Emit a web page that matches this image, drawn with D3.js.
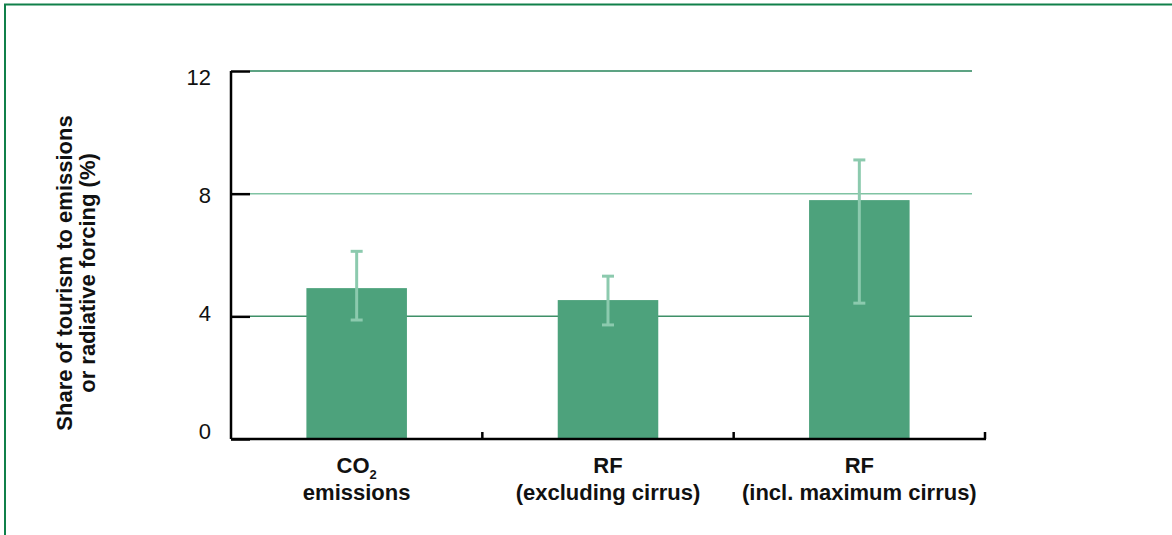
<!DOCTYPE html>
<html><head><meta charset="utf-8">
<script src="https://cdn.jsdelivr.net/npm/d3@7/dist/d3.min.js"></script>
<style>body{margin:0;background:#fff}svg{display:block}text{font-family:"Liberation Sans",Arial,sans-serif}</style>
</head><body>
<svg id="c" width="1172" height="535"></svg>
<script>
const categories = ["CO2 emissions", "RF (excluding cirrus)", "RF (incl. maximum cirrus)"];
const labelLine1 = ["CO", "RF", "RF"];
const labelLine2 = ["emissions", "(excluding cirrus)", "(incl. maximum cirrus)"];
const values = [4.92, 4.53, 7.79];
const errLow = [3.88, 3.72, 4.43];
const errHigh = [6.12, 5.31, 9.10];
const yTicks = [0, 4, 8, 12];
const gridColors = {4: "#3f9068", 8: "#80c3a3", 12: "#27845a"};

const svg = d3.select("#c");
// frame
svg.append("path").attr("d", "M5,535 L5,4.5 L1172,4.5").attr("fill", "none")
  .attr("stroke", "#10804a").attr("stroke-width", 2);

const x0 = 231, x1 = 985, yTop = 71, yBot = 439;
const x = d3.scaleBand().domain(categories).range([x0, x1]).paddingInner(0.6).paddingOuter(0.3);
const xb = d3.scaleBand().domain(categories).range([x0, x1]);
const y = d3.scaleLinear().domain([0, 12]).range([yBot, yTop]);
const yLab = d3.scaleLinear().domain([0, 12]).range([439, 85]);

// gridlines
svg.append("g").selectAll("line").data(yTicks.filter(d => d > 0)).join("line")
  .attr("x1", d => d === 8 ? 237 : 250).attr("x2", 972)
  .attr("y1", d => y(d)).attr("y2", d => y(d))
  .attr("stroke", d => gridColors[d]).attr("stroke-width", 1.5);

// bars
svg.append("g").selectAll("rect").data(categories).join("rect")
  .attr("x", d => x(d)).attr("width", x.bandwidth())
  .attr("y", (d, i) => y(values[i])).attr("height", (d, i) => yBot - y(values[i]))
  .attr("fill", "#4da27c");

// error bars
const eg = svg.append("g").attr("stroke", "#8ccaae").attr("stroke-width", 3).attr("fill", "none");
categories.forEach((c, i) => {
  const cx = x(c) + x.bandwidth() / 2;
  eg.append("line").attr("x1", cx).attr("x2", cx).attr("y1", y(errHigh[i])).attr("y2", y(errLow[i]));
  eg.append("line").attr("x1", cx - 6).attr("x2", cx + 6).attr("y1", y(errHigh[i])).attr("y2", y(errHigh[i]));
  eg.append("line").attr("x1", cx - 6).attr("x2", cx + 6).attr("y1", y(errLow[i])).attr("y2", y(errLow[i]));
});

// y axis
const yAxis = d3.axisRight(y).tickValues(yTicks).tickSize(19).tickFormat("");
const ya = svg.append("g").attr("transform", `translate(${x0},0)`).call(yAxis);
ya.select(".domain").attr("d", `M0,${yTop}V${yBot}`).attr("stroke", "#000").attr("stroke-width", 2.5);
ya.selectAll(".tick line").attr("stroke", "#000").attr("stroke-width", 2.5);
svg.append("g").selectAll("text").data(yTicks).join("text")
  .attr("x", 211).attr("y", d => yLab(d)).attr("text-anchor", "end")
  .attr("font-size", 22).attr("fill", "#111").text(d => d);

// x axis
const xAxis = d3.axisTop(xb).tickSize(0).tickFormat("");
const xa = svg.append("g").attr("transform", `translate(0,${yBot})`).call(xAxis);
xa.select(".domain").attr("d", `M${x0},0H${x1 + 1}`).attr("stroke", "#000").attr("stroke-width", 2.5);
xa.selectAll(".tick").remove();
xa.selectAll(".sep").data(categories).join("line").attr("class", "sep")
  .attr("x1", d => xb(d) + xb.bandwidth()).attr("x2", d => xb(d) + xb.bandwidth())
  .attr("y1", 0).attr("y2", -7).attr("stroke", "#000").attr("stroke-width", 2.5);

// category labels
const lg = svg.append("g").attr("font-weight", "bold").attr("font-size", 22).attr("fill", "#111").attr("text-anchor", "middle");
categories.forEach((c, i) => {
  const cx = xb(c) + xb.bandwidth() / 2;
  const t = lg.append("text").attr("x", cx).attr("y", 473);
  t.append("tspan").text(labelLine1[i]);
  if (i === 0) t.append("tspan").attr("font-size", 13).attr("dy", 6).text("2");
  lg.append("text").attr("x", cx).attr("y", 500).text(labelLine2[i]);
});

// y title
const yt = svg.append("g").attr("transform", "translate(0,273) rotate(-90)")
  .attr("font-weight", "bold").attr("font-size", 22).attr("fill", "#111").attr("text-anchor", "middle");
yt.append("text").attr("x", 0).attr("y", 72).text("Share of tourism to emissions");
yt.append("text").attr("x", 0).attr("y", 95).text("or radiative forcing (%)");
</script>
</body></html>
